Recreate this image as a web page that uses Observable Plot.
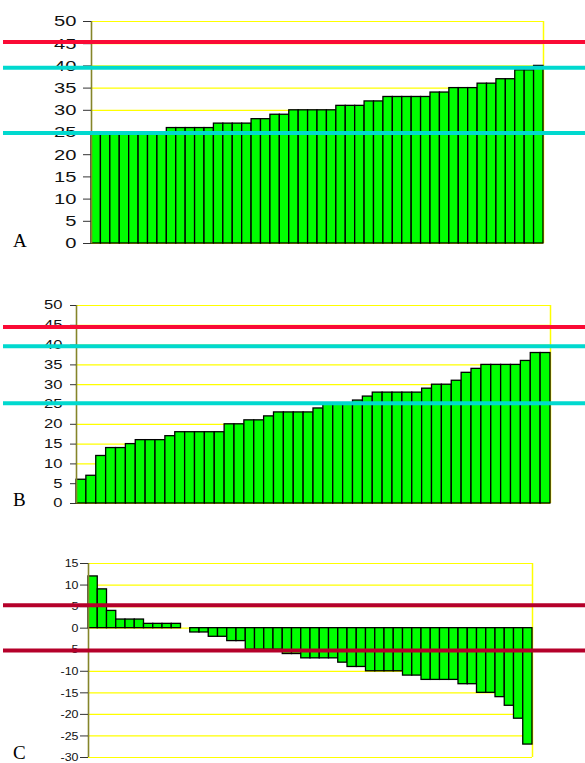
<!DOCTYPE html>
<html>
<head>
<meta charset="utf-8">
<script src="https://cdn.jsdelivr.net/npm/d3@7"></script>
<script src="https://cdn.jsdelivr.net/npm/@observablehq/plot@0.6"></script>
<style>
  html, body { margin: 0; padding: 0; background: #fff; }
  #chart { width: 585px; height: 763px; overflow: hidden; position: relative; }
  #chart svg { display: block; }
</style>
</head>
<body>
<div id="chart"></div>
<script>
// ---- data ----
const valuesA = [25,25,25,25,25,25,25,25,26,26,26,26,26,27,27,27,27,28,28,29,29,30,30,30,30,30,31,31,31,32,32,33,33,33,33,33,34,34,35,35,35,36,36,37,37,39,39,40];
const valuesB = [6,7,12,14,14,15,16,16,16,17,18,18,18,18,18,20,20,21,21,22,23,23,23,23,24,25,25,25,26,27,28,28,28,28,28,29,30,30,31,33,34,35,35,35,35,36,38,38];
const valuesC = [12,9,4,2,2,2,1,1,1,1,0,-1,-1,-2,-2,-3,-3,-5,-5,-5,-5,-6,-6,-7,-7,-7,-7,-8,-9,-9,-10,-10,-10,-10,-11,-11,-12,-12,-12,-12,-13,-13,-15,-15,-16,-18,-21,-27];
const ticksAB = [0,5,10,15,20,25,30,35,40,45,50];
const ticksC = [-30,-25,-20,-15,-10,-5,0,5,10,15];
const redA = [45.4];
const cyanA = [39.6, 24.9];
const redB = [44.6];
const cyanB = [39.7, 25.3];
const redC = [5.3, -5.2];
const letters = ["A", "B", "C"];

const GREEN = "#00ff00", YELLOW = "#ffff00", OLIVE = "#85852a";
const RED = "#fa0a35", CYAN = "#00d9cf", DARKRED = "#b5002a";

function panel(cfg) {
  const {values, domain, ticks, lines, letter, height, mt, mb, ml, mr,
         fontSize, tickSize, tickPadding, letterDy} = cfg;
  const n = values.length;
  const bars = values.map((v, i) => ({i, v})).filter(d => d.v !== 0);
  const marks = [
    Plot.ruleY(ticks, {stroke: YELLOW, strokeWidth: 1.2}),
    Plot.ruleX([n], {stroke: YELLOW, strokeWidth: 1.5}),
    Plot.rectY(bars, {x1: "i", x2: d => d.i + 1, y1: 0, y2: "v", fill: GREEN, stroke: "#000", strokeWidth: 1.3}),
    Plot.ruleX([0], {stroke: OLIVE, strokeWidth: 1.6}),
    Plot.axisY(ticks, {tickSize, tickPadding, fontSize, label: null,
                       fontFamily: "Liberation Sans, Arial, sans-serif",
                       fill: "#111", stroke: "#333", tickFormat: d => String(d)}),
  ];
  for (const L of lines) {
    marks.push(Plot.ruleY(L.values, {stroke: L.color, strokeWidth: 4, insetLeft: -(ml - 3), insetRight: -mr}));
  }
  marks.push(Plot.text([letter], {frameAnchor: "bottom-left", dx: 12.5 - ml, dy: letterDy,
    textAnchor: "start", lineAnchor: "bottom", fontSize: 19,
    fontFamily: "Liberation Serif, Times New Roman, serif", fill: "#000"}));
  return Plot.plot({
    width: 585, height,
    marginTop: mt, marginBottom: mb, marginLeft: ml, marginRight: mr,
    x: {type: "linear", domain: [0, n], axis: null},
    y: {domain, axis: null, label: null},
    style: {overflow: "visible", background: "transparent"},
    marks
  });
}

// widen tick labels horizontally about their right edge (the reference's digits are stretched)
function stretchLabels(svg, s) {
  svg.querySelectorAll('g[aria-label="y-axis tick label"] text').forEach(t => {
    const b = t.getBBox();
    const rx = b.x + b.width;
    const tr = t.getAttribute("transform") || "";
    t.setAttribute("transform", `${tr} translate(${rx},0) scale(${s},1) translate(${-rx},0)`);
  });
}

const root = document.getElementById("chart");
const specs = [
  {values: valuesA, domain: [0, 50], ticks: ticksAB,
   lines: [{values: redA, color: RED}, {values: cyanA, color: CYAN}], letter: letters[0],
   height: 255, mt: 21, mb: 12, ml: 91, mr: 42, fontSize: 15.5, sx: 1.3,
   tickSize: 8, tickPadding: 7, letterDy: 3},
  {values: valuesB, domain: [0, 50], ticks: ticksAB,
   lines: [{values: redB, color: RED}, {values: cyanB, color: CYAN}], letter: letters[1],
   height: 255, mt: 50, mb: 7, ml: 76, mr: 35, fontSize: 12, sx: 1.38,
   tickSize: 6, tickPadding: 8, letterDy: 2},
  {values: valuesC, domain: [-30, 15], ticks: ticksC,
   lines: [{values: redC, color: DARKRED}], letter: letters[2],
   height: 253, mt: 53, mb: 6, ml: 88, mr: 53, fontSize: 11.5, sx: 1.08,
   tickSize: 8, tickPadding: 2, letterDy: 1}
];
for (const s of specs) {
  const svg = panel(s);
  root.appendChild(svg);
  try { stretchLabels(svg, s.sx); } catch (e) {}
}
</script>
</body>
</html>
